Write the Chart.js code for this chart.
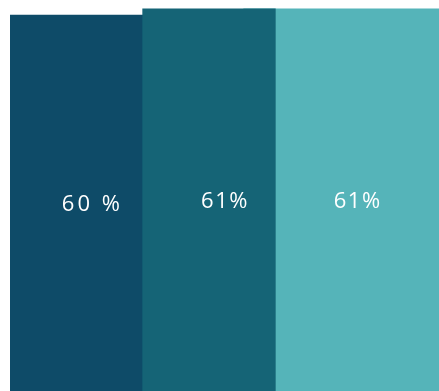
<!DOCTYPE html>
<html>
<head>
<meta charset="utf-8">
<script src="https://cdn.jsdelivr.net/npm/chart.js@4/dist/chart.umd.min.js"></script>
<style>
html,body{margin:0;padding:0;overflow:hidden;background:#ffffff;}
#wrap{position:relative;width:439px;height:395px;}
</style>
</head>
<body>
<div id="wrap"><canvas id="c" width="439" height="395"></canvas></div>
<script>
// Data
const categories = ['A', 'B', 'C'];
const values = [60, 61, 61];
const valueLabels = ['60 %', '61%', '61%'];
const barColors = ['#0e4b68', '#156476', '#55b4b9'];

// first two bars in one dataset, last (wider) bar in its own dataset
const mainData = values.map((v, i) => (i < values.length - 1 ? v : null));
const lastData = values.map((v, i) => (i === values.length - 1 ? v : null));

const labelPlugin = {
  id: 'barLabels',
  afterDatasetsDraw(chart) {
    const ctx = chart.ctx;
    ctx.save();
    ctx.fillStyle = '#ffffff';
    ctx.font = '400 22px "Open Sans", sans-serif';
    ctx.textAlign = 'center';
    ctx.textBaseline = 'middle';
    chart.data.datasets.forEach((ds, di) => {
      const meta = chart.getDatasetMeta(di);
      meta.data.forEach((el, i) => {
        if (ds.data[i] == null) return;
        try { ctx.letterSpacing = (i === 0 ? '3px' : '1.5px'); } catch (e) {}
        const x = el.x + 16;
        const y = (el.y + el.base) / 2;
        ctx.fillText(valueLabels[i], x, y);
      });
    });
    ctx.restore();
  }
};

new Chart(document.getElementById('c'), {
  type: 'bar',
  data: {
    labels: categories,
    datasets: [
      {
        data: mainData,
        backgroundColor: barColors,
        borderWidth: 0,
        grouped: false,
        categoryPercentage: 1,
        barPercentage: 1
      },
      {
        data: lastData,
        backgroundColor: barColors,
        borderWidth: 0,
        grouped: false,
        barThickness: 196,
        clip: false
      }
    ]
  },
  options: {
    responsive: false,
    animation: false,
    devicePixelRatio: 1,
    layout: { padding: { left: 10, right: 31, top: 0, bottom: 0 } },
    plugins: { legend: { display: false }, tooltip: { enabled: false } },
    scales: {
      x: { display: false, grid: { display: false } },
      y: { display: false, min: 0, max: 62.4, grid: { display: false } }
    }
  },
  plugins: [labelPlugin]
});
</script>
</body>
</html>
